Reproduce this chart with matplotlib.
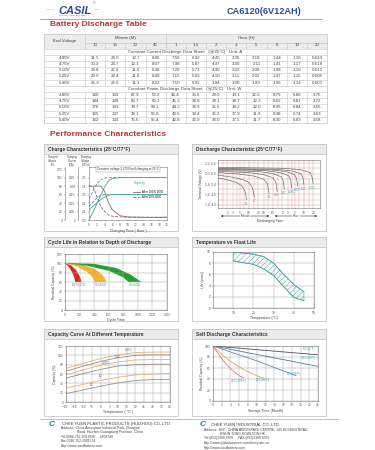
import numpy as np
import matplotlib
matplotlib.use("Agg")
import matplotlib.pyplot as plt
from matplotlib import font_manager
from matplotlib.patches import Rectangle

names = {f.name for f in font_manager.fontManager.ttflist}
NARROW = 'Liberation Sans Narrow' if 'Liberation Sans Narrow' in names else 'Liberation Sans'
plt.rcParams['font.family'] = ['Liberation Sans', 'DejaVu Sans']
plt.rcParams['hatch.linewidth'] = 0.4
plt.rcParams['axes.linewidth'] = 0.4

# ---------------- data ----------------
end_voltages = ["4.80V", "4.75V", "5.10V", "5.25V", "5.40V"]
minute_cols = ["10", "15", "30", "45"]
hour_cols = ["1", "1.5", "2", "3", "5", "8", "10", "20"]
current_table = [
    ["31.5", "24.0", "12.7", "8.06", "7.56", "6.32", "4.45", "3.35", "2.18", "1.44", "1.16", "0.624"],
    ["30.3", "23.7", "12.1", "8.07", "7.38", "5.87", "4.37", "3.30", "2.11", "1.41", "1.17", "0.618"],
    ["28.8", "22.6", "11.5", "8.38", "7.20", "5.73", "4.30", "3.22", "2.08", "1.38", "1.16", "0.612"],
    ["29.6", "22.4", "11.0", "8.30", "7.15", "5.63", "4.10", "3.11", "2.02", "1.37", "1.15", "0.606"],
    ["26.3", "22.0", "11.3", "8.22", "7.10", "5.32", "3.94", "3.00", "1.99", "1.36", "1.14", "0.600"],
]
power_table = [
    ["160", "133", "87.9", "52.2", "46.4", "35.6", "28.0", "19.1", "12.6", "8.79", "6.86", "3.75"],
    ["184", "148", "83.7", "60.1", "45.3", "34.8", "28.1", "18.7", "12.3", "8.62", "6.81", "3.72"],
    ["170", "141", "78.7", "58.1", "44.2", "33.9", "25.5", "18.2", "12.0", "8.45", "6.84", "3.65"],
    ["165", "137", "78.1", "56.8", "43.5", "33.4", "25.2", "17.9", "11.9", "8.38", "6.74", "3.63"],
    ["162", "133", "75.6", "55.4", "42.8", "32.9", "24.0", "17.5", "11.7", "8.30", "6.63", "3.58"],
]

# charge characteristics
chg_hours = [0, 1, 2, 3, 4, 5, 6, 8, 10, 14, 20]
chg_volume_100 = [0, 18, 38, 58, 78, 92, 98, 100, 100, 100, 100]
chg_volume_50 = [50, 68, 85, 95, 99, 100, 100, 100, 100, 100, 100]
chg_voltage_100 = [2.12, 2.16, 2.20, 2.24, 2.27, 2.29, 2.30, 2.30, 2.30, 2.30, 2.30]
chg_voltage_50 = [2.16, 2.21, 2.26, 2.29, 2.30, 2.30, 2.30, 2.30, 2.30, 2.30, 2.30]
chg_current_100 = [0.20, 0.20, 0.20, 0.20, 0.17, 0.10, 0.06, 0.025, 0.018, 0.016, 0.016]
chg_current_50 = [0.20, 0.20, 0.14, 0.08, 0.05, 0.03, 0.022, 0.018, 0.016, 0.016, 0.016]

# discharge characteristics (minutes, V/cell)
dis_labels = ["3C", "2C", "1C", "0.6C", "0.4C", "0.25C", "0.17C", "0.1C", "0.05C"]
dis_times = [
    [1, 2, 4, 6, 7.5, 8.5],
    [1, 3, 6, 10, 13, 15],
    [1, 5, 15, 30, 40, 45],
    [1, 10, 30, 60, 75, 82],
    [1, 20, 60, 110, 130, 140],
    [1, 30, 100, 190, 225, 240],
    [1, 50, 160, 300, 350, 380],
    [1, 80, 250, 480, 560, 600],
    [1, 150, 500, 950, 1100, 1200],
]
dis_volts = [
    [1.92, 1.88, 1.83, 1.76, 1.66, 1.50],
    [1.97, 1.93, 1.89, 1.83, 1.73, 1.55],
    [2.02, 1.99, 1.95, 1.89, 1.80, 1.62],
    [2.04, 2.02, 1.98, 1.92, 1.83, 1.66],
    [2.06, 2.04, 2.00, 1.94, 1.86, 1.70],
    [2.08, 2.06, 2.02, 1.96, 1.88, 1.73],
    [2.09, 2.07, 2.04, 1.98, 1.90, 1.76],
    [2.10, 2.08, 2.05, 2.00, 1.92, 1.79],
    [2.12, 2.10, 2.07, 2.02, 1.94, 1.81],
]

# cycle life
dod_labels = ["100%DOD", "50%DOD", "30%DOD"]
dod_colors = ["#d42a20", "#f4b430", "#22a032"]
dod_upper_cycles = [[0, 80, 150, 200, 230], [0, 250, 420, 520, 575], [0, 400, 700, 900, 1050]]
dod_upper_cap = [[100, 96, 86, 73, 60], [100, 97, 87, 74, 60], [101, 99, 90, 76, 60]]
dod_lower_cycles = [[0, 50, 100, 130, 140], [0, 150, 300, 380, 410], [0, 300, 600, 800, 870]]
dod_lower_cap = [[100, 93, 80, 68, 60], [100, 94, 82, 70, 60], [100, 95, 84, 70, 60]]

# float life
float_temp = [10, 20, 25, 30, 35, 40, 45]
float_life_upper = [10.0, 9.6, 9.2, 8.0, 6.0, 4.2, 2.9]
float_life_lower = [8.4, 7.8, 7.0, 5.8, 3.8, 1.9, 1.3]

# capacity vs temperature
cap_temps = [-20, -10, 0, 10, 20, 30, 40]
cap_curves = [
    [72, 83, 93, 101, 106, 107, 107],
    [66, 77, 87, 95, 100, 101, 101],
    [58, 69, 79, 86, 90, 91, 91],
    [51, 61, 70, 77, 80, 81, 81],
    [30, 38, 46, 53, 58, 60, 61],
    [18, 26, 34, 41, 46, 48, 48],
]
cap_curve_colors = ["#e8b070", "#909090", "#e8b070", "#909090", "#e8b070", "#909090"]
cap_labels = ["0.05C", "0.1C", "0.25C", "1C", "3C"]
cap_label_pos = [(16, 107), (10, 93), (3, 79), (0, 51), (-5, 32)]

# self discharge
sd_labels = ["0°C(32°F)", "10°C(50°F)", "20°C(68°F)", "30°C(86°F)", "40°C(104°F)"]
sd_months = [[0, 24], [0, 24], [0, 10, 19], [0, 2, 4, 6, 8, 10, 11.5], [0, 1, 2, 3, 4, 5, 6, 7]]
sd_capacity = [[100, 84], [100, 63], [100, 73, 46], [100, 85, 72, 62, 53, 46, 42],
               [100, 88, 77, 67, 59, 52, 46, 42]]
sd_colors = ["#4a5060", "#5a7890", "#5a8cb0", "#e8a060", "#e07878"]
sd_label_pos = [(22, 95), (22, 79), (18.5, 50), (11.5, 38), (6, 37)]

# ---------------- figure ----------------
W, H = 375, 450
fig = plt.figure(figsize=(3.75, 4.5), dpi=100)
fig.patch.set_facecolor("white")
pg = fig.add_axes([0, 0, 1, 1])
pg.set_xlim(0, W)
pg.set_ylim(H, 0)
pg.axis("off")


def box(x0, y0, x1, y1):
    return [x0 / W, 1 - y1 / H, (x1 - x0) / W, (y1 - y0) / H]


BLUE = "#2f4a9c"
RED = "#b8343a"
TXT = "#444444"
TEAL = "#3a9cb0"

# header
pg.text(45, 11, "····", fontsize=5, color="#8a8a9a", va="center", ha="left")
pg.text(58, 10.5, "CASIL", fontsize=8, color=BLUE, fontweight="bold", style="italic",
        va="center", ha="left")
pg.text(93, 11, "···", fontsize=5, color="#8a8a9a", va="center", ha="left")
pg.text(93, 3.5, "®", fontsize=2.5, color="#666", va="center")
pg.text(73, 15.5, "CASIL PLASTIC BATTERY", fontsize=1.6, color="#555", va="center", ha="center")
pg.text(264, 11, "CA6120(6V12AH)", fontsize=8 if NARROW != 'Liberation Sans' else 6.6,
        family=[NARROW, 'DejaVu Sans'], color=BLUE, fontweight="bold", va="center", ha="center")
pg.plot([40, 322], [18.5, 18.5], color="#9a9a9a", lw=0.6)
pg.text(50, 25, "Battery Discharge Table", fontsize=6, color=RED, fontweight="bold",
        va="center", ha="left")

# table
tx0, tx1 = 44, 327
c0 = 85
cw = (tx1 - c0) / 12
top, h1, h2 = 34, 42.5, 48.5
rh = 6.2
LC = "#c4c4c4"
pg.add_patch(Rectangle((tx0, top), tx1 - tx0, h2 - top, facecolor="#ececec", edgecolor="none"))
row_edges = [h2 + i * rh for i in range(13)]
bottom = row_edges[-1]
pg.add_patch(Rectangle((tx0, top), tx1 - tx0, bottom - top, facecolor="none", edgecolor=LC, lw=0.5))
for y in [h1]:
    pg.plot([c0, tx1], [y, y], color=LC, lw=0.4)
for y in row_edges[:-1]:
    pg.plot([tx0, tx1], [y, y], color=LC, lw=0.4)
pg.plot([c0, c0], [top, h2], color=LC, lw=0.4)
pg.plot([c0 + 4 * cw, c0 + 4 * cw], [top, h2], color=LC, lw=0.4)
for j in range(1, 12):
    pg.plot([c0 + j * cw] * 2, [h1, h2], color=LC, lw=0.4)
for blk in (1, 7):
    ya, yb = row_edges[blk], row_edges[blk + 5]
    for j in range(0, 12):
        pg.plot([c0 + j * cw] * 2, [ya, yb], color=LC, lw=0.4)

fs_t = 3.2
pg.text((tx0 + c0) / 2, (top + h2) / 2, "End Voltage", fontsize=fs_t, color=TXT, ha="center", va="center")
pg.text(c0 + 2 * cw, (top + h1) / 2, "Minute (M)", fontsize=fs_t, color=TXT, ha="center", va="center")
pg.text(c0 + 8 * cw, (top + h1) / 2, "Hour (H)", fontsize=fs_t, color=TXT, ha="center", va="center")
for j, lab in enumerate(minute_cols + hour_cols):
    pg.text(c0 + (j + 0.5) * cw, (h1 + h2) / 2, lab, fontsize=fs_t, color=TXT, ha="center", va="center")

pg.text(185, (row_edges[0] + row_edges[1]) / 2,
        "Constant Current Discharge Data Sheet   (@25°C)   Unit: A",
        fontsize=fs_t, color=TXT, ha="center", va="center")
pg.text(185, (row_edges[6] + row_edges[7]) / 2,
        "Constant Power Discharge Data Sheet   (@25°C)   Unit: W",
        fontsize=fs_t, color=TXT, ha="center", va="center")
for blk, table in ((1, current_table), (7, power_table)):
    for i, (ev, row) in enumerate(zip(end_voltages, table)):
        yc = (row_edges[blk + i] + row_edges[blk + i + 1]) / 2
        pg.text((tx0 + c0) / 2, yc, ev, fontsize=fs_t, color=TXT, ha="center", va="center")
        for j, v in enumerate(row):
            pg.text(c0 + (j + 0.5) * cw, yc, v, fontsize=fs_t, color=TXT, ha="center", va="center")

pg.text(50, 134, "Performance Characteristics", fontsize=6, color=RED, fontweight="bold",
        va="center", ha="left")

# panels
panels = [
    ((44, 144, 178, 231), "Charge Characteristics (25°C/77°F)"),
    ((192, 144, 326, 231), "Discharge Characteristic (25°C/77°F)"),
    ((44, 237, 178, 321), "Cycle Life in Relation to Depth of Discharge"),
    ((192, 237, 326, 321), "Temperature vs Float Life"),
    ((44, 329, 178, 416), "Capacity Curve At Different Temperature"),
    ((192, 329, 326, 416), "Self Discharge Characteristics"),
]
for (x0, y0, x1, y1), title in panels:
    pg.add_patch(Rectangle((x0, y0), x1 - x0, y1 - y0, facecolor="white", edgecolor="#c8c8c8", lw=0.6))
    pg.add_patch(Rectangle((x0, y0), x1 - x0, 10, facecolor="#ebebeb", edgecolor="#c8c8c8", lw=0.6))
    pg.text(x0 + 4, y0 + 5.3, title, fontsize=3.5, color="#333", fontweight="bold", va="center", ha="left")


def style(ax, fs=2.3):
    ax.tick_params(labelsize=fs, length=1.0, width=0.3, pad=0.8, colors="#555")
    for s in ax.spines.values():
        s.set_linewidth(0.4)
        s.set_color("#777")


GRID = dict(color="#a8a8a8", lw=0.35)

# ---- charge characteristics ----
axv = fig.add_axes(box(89, 167, 167, 220))
style(axv)
axv.set_xlim(0, 20)
axv.set_xticks(range(0, 21, 2))
axv.set_ylim(2.0, 2.625)
axv.set_yticks([2.0, 2.1, 2.2, 2.3, 2.4, 2.5])
axv.plot(chg_hours, chg_voltage_100, color="#4aa0a0", lw=0.6)
axv.plot(chg_hours, chg_voltage_50, color="#4aa0a0", lw=0.6, ls="--")
axc = axv.twinx()
axc.set_ylim(0, 0.3125)
axc.yaxis.tick_left()
axc.spines["left"].set_position(("outward", 7.9))
axc.spines["left"].set_visible(True)
for s in ("right", "top", "bottom"):
    axc.spines[s].set_visible(False)
style(axc)
axc.spines["left"].set_color("#777")
axc.set_yticks([0, 0.05, 0.10, 0.15, 0.20, 0.25])
axc.set_yticklabels(["0", "0.05", "0.10", "0.15", "0.20", "0.25"])
axc.plot(chg_hours, chg_current_100, color="#8a6a6a", lw=0.6, label="After 100% DOD")
axc.plot(chg_hours, chg_current_50, color="#8a6a6a", lw=0.6, ls="--", label="After 50% DOD")
axq = axv.twinx()
axq.set_ylim(0, 125)
axq.yaxis.tick_left()
axq.spines["left"].set_position(("outward", 17.3))
axq.spines["left"].set_visible(True)
for s in ("right", "top", "bottom"):
    axq.spines[s].set_visible(False)
style(axq)
axq.set_yticks(range(0, 121, 20))
axq.plot(chg_hours, chg_volume_100, color="#3aa89a", lw=0.6)
axq.plot(chg_hours, chg_volume_50, color="#3aa89a", lw=0.6, ls="--")
axq.text(11.5, 86, "Capacity", fontsize=2.2, color=TEAL)
leg = axc.legend(loc=(0.55, 0.38), fontsize=2.0, frameon=False, handlelength=2.5, labelspacing=0.3)
axv.text(0.5, 0.995, "Constant voltage 2.275V/cell charging at 25°C", transform=axv.transAxes,
         fontsize=2.2, color="#333", ha="center", va="top",
         bbox=dict(facecolor="white", edgecolor="#888", lw=0.3, pad=0.6))
axv.set_xlabel("Charging Time ( Hour )", fontsize=2.6, color="#444", labelpad=1.5)
for xc, t in ((53, "Charged\nVolume\n(%)"), (72, "Charging\nCurrent\n(CA)"), (86, "Charging\nVoltage\n(V/Cell)")):
    pg.text(xc, 161, t, fontsize=2.0, color="#444", ha="center", va="center", linespacing=1.0)

# ---- discharge characteristics ----
axd = fig.add_axes(box(218, 160, 320, 208))
style(axd)
axd.set_xscale("log")
axd.set_xlim(1, 2000)
axd.set_ylim(1.34, 2.26)
xt = [2, 3, 5, 10, 20, 30, 60, 120, 180, 300, 600, 1200]
axd.set_xticks(xt)
axd.set_xticklabels(["2", "3", "5", "10", "20", "30", "60", "2", "3", "5", "10", "20"])
axd.xaxis.set_minor_locator(matplotlib.ticker.FixedLocator([1.5, 4, 7, 15, 40, 90, 240, 420, 900]))
axd.xaxis.set_minor_formatter(matplotlib.ticker.NullFormatter())
axd.set_yticks([1.4, 1.6, 1.8, 2.0, 2.2])
axd.set_yticklabels([f"{v:.1f}  {v * 3:.1f}" for v in [1.4, 1.6, 1.8, 2.0, 2.2]])
axd.yaxis.set_minor_locator(matplotlib.ticker.MultipleLocator(0.1))
axd.grid(True, which="both", color="#e4a0a0", lw=0.35)
axd.tick_params(which="minor", length=0)
for t, v, lab in zip(dis_times, dis_volts, dis_labels):
    axd.plot(t, v, color="#707070", lw=0.5)
    axd.text(t[-1], v[-1] - 0.04, lab, fontsize=2.0, color=TEAL, ha="center", va="top")
axd.set_ylabel("Terminal Voltage (V)", fontsize=2.4, color="#444", labelpad=1)
pg.annotate("", xy=(218, 216), xytext=(272, 216),
            arrowprops=dict(arrowstyle="<|-|>", lw=0.4, color="#333", mutation_scale=2.5))
pg.annotate("", xy=(272, 216), xytext=(320, 216),
            arrowprops=dict(arrowstyle="<|-|>", lw=0.4, color="#333", mutation_scale=2.5))
pg.text(245, 216, "Minute", fontsize=2.2, color="#333", ha="center", va="center",
        bbox=dict(facecolor="white", edgecolor="none", pad=0.3))
pg.text(296, 216, "Hour", fontsize=2.2, color="#333", ha="center", va="center",
        bbox=dict(facecolor="white", edgecolor="none", pad=0.3))
pg.text(270, 221, "Discharging Time", fontsize=2.4, color="#333", ha="center", va="center")

# ---- cycle life ----
axl = fig.add_axes(box(65, 254, 167, 310))
style(axl)
axl.set_xlim(0, 1400)
axl.set_ylim(0, 120)
axl.set_xticks(range(0, 1401, 200))
axl.set_yticks(range(0, 121, 20))
axl.grid(True, **GRID)
for ux, uy, lx, ly, col, lab in zip(dod_upper_cycles, dod_upper_cap, dod_lower_cycles,
                                      dod_lower_cap, dod_colors, dod_labels):
    axl.fill(list(ux) + list(lx)[::-1], list(uy) + list(ly)[::-1], color=col, lw=0)
    axl.text((ux[-1] + lx[-1]) / 2, 54, lab, fontsize=2.1, color=TEAL, ha="center", va="center")
axl.set_xlabel("Cycle Time", fontsize=2.6, color="#444", labelpad=1)
axl.set_ylabel("Residual Capacity (%)", fontsize=2.4, color="#444", labelpad=1)

# ---- float life ----
axf = fig.add_axes(box(213, 252, 314, 308))
style(axf)
axf.set_xlim(0, 50)
axf.set_ylim(0, 10)
axf.set_xticks([10, 20, 30, 40, 50])
axf.set_yticks([0, 2, 4, 6, 8, 10])
axf.grid(True, **GRID)
axf.fill_between(float_temp, float_life_lower, float_life_upper, facecolor="none",
                 edgecolor="#4ab0b0", hatch="//////", lw=0.5)
axf.plot(float_temp, float_life_upper, color="#4a9aa8", lw=0.5)
axf.plot(float_temp, float_life_lower, color="#4a9aa8", lw=0.5)
axf.set_xlabel("Temperature (°C)", fontsize=2.6, color="#444", labelpad=1)
axf.set_ylabel("Life (years)", fontsize=2.4, color="#444", labelpad=1)

# ---- capacity vs temperature ----
axt = fig.add_axes(box(66, 346, 170, 402))
style(axt)
axt.set_xlim(-20, 40)
axt.set_ylim(0, 120)
axt.set_xticks(range(-20, 41, 5))
axt.set_yticks(range(0, 121, 20))
axt.grid(True, **GRID)
for cv, col in zip(cap_curves, cap_curve_colors):
    axt.plot(cap_temps, cv, color=col, lw=0.6)
for lab, (xx, yy) in zip(cap_labels, cap_label_pos):
    axt.text(xx, yy, lab, fontsize=2.0, color="#557", ha="center", va="bottom")
axt.set_xlabel("Temperature ( °C )", fontsize=2.6, color="#444", labelpad=1)
axt.set_ylabel("Capacity (%)", fontsize=2.4, color="#444", labelpad=1)

# ---- self discharge ----
axs = fig.add_axes(box(213, 346, 318, 401))
style(axs)
axs.set_xlim(0, 24)
axs.set_ylim(0, 100)
axs.set_xticks(range(0, 25, 2))
axs.set_yticks(range(0, 101, 20))
axs.grid(True, **GRID)
for m, c, col in zip(sd_months, sd_capacity, sd_colors):
    axs.plot(m, c, color=col, lw=0.6)
for lab, (xx, yy) in zip(sd_labels, sd_label_pos):
    axs.text(xx, yy, lab, fontsize=2.0, color=TEAL, ha="center", va="center")
axs.set_xlabel("Storage Time (Month)", fontsize=2.6, color="#444", labelpad=1)
axs.set_ylabel("Residual Capacity (%)", fontsize=2.4, color="#444", labelpad=1)

# ---------------- footer ----------------
pg.plot([40, 338], [418.5, 418.5], color="#a8c8e0", lw=0.7)
pg.text(49, 424, "C", fontsize=6, color="#1f6fc0", fontweight="bold", style="italic", va="center")
pg.text(62, 424, "CHEE YUEN PLASTIC PRODUCTS (HUIZHOU) CO.,LTD.", fontsize=3.0, color="#333",
        family=[NARROW, 'DejaVu Sans'], va="center")
left_lines = ["Address: China Aerospace Industrial Park, Zhongkai",
              "Road, Huizhou Guangdong Province, China",
              "Tel:0086-752-2021930     2608748",
              "Fax:0086-752-2081574",
              "Http://www.casilbattery.com"]
for t, x, y in zip(left_lines, [61, 77, 61, 61, 61], [428.5, 432.5, 437, 441.5, 446]):
    pg.text(x, y, t, fontsize=2.4, color="#444", va="center")
pg.text(200, 425, "C", fontsize=6, color="#1f6fc0", fontweight="bold", style="italic", va="center")
pg.text(211, 425, "CHEE YUEN INDUSTRIAL CO.,LTD.", fontsize=3.0, color="#333",
        family=[NARROW, 'DejaVu Sans'], va="center")
right_lines = ["Address: 16/F., CHINA AEROSPACE CENTRE, 143 HOI BUN ROAD,",
               "KWUN TONG,KOWLOON,HK",
               "Tel:(852)2389 3305     FAX:(852)2389 5076",
               "Http://www.globalsources.com/cheeyuen.co",
               "Http://www.casilbattery.com"]
for t, x, y in zip(right_lines, [204, 220, 204, 204, 204], [430, 434, 438.5, 443, 447.5]):
    pg.text(x, y, t, fontsize=2.4, color="#444", va="center")

fig.savefig("out.png", dpi=100, facecolor="white")
